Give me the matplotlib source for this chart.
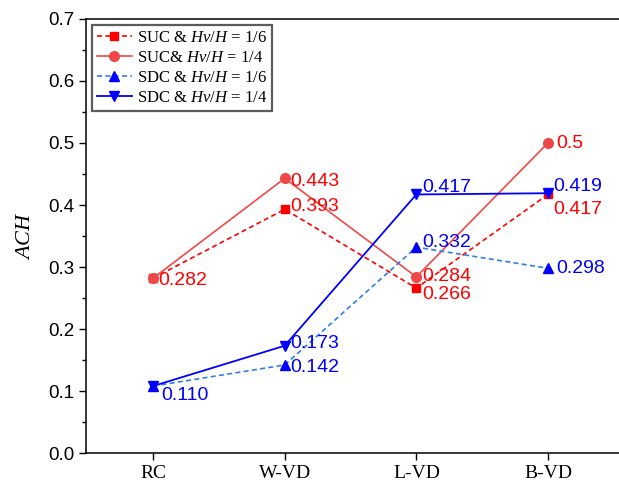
import matplotlib
matplotlib.use("Agg")
import matplotlib.pyplot as plt
from matplotlib.ticker import MultipleLocator

categories = ["RC", "W-VD", "L-VD", "B-VD"]
suc_16 = [0.282, 0.393, 0.266, 0.417]
suc_14 = [0.282, 0.443, 0.284, 0.500]
sdc_16 = [0.108, 0.142, 0.332, 0.298]
sdc_14 = [0.108, 0.173, 0.417, 0.419]
label_suc_16 = ["", "0.393", "0.266", "0.417"]
label_suc_14 = ["0.282", "0.443", "0.284", "0.5"]
label_sdc_16 = ["0.110", "0.142", "0.332", "0.298"]
label_sdc_14 = ["", "0.173", "0.417", "0.419"]

plt.rcParams["mathtext.fontset"] = "custom"
plt.rcParams["mathtext.it"] = "Liberation Serif:italic"
plt.rcParams["mathtext.rm"] = "Liberation Serif"

fig = plt.figure(figsize=(6.19, 4.82), dpi=100)
ax = fig.add_axes([86/619, 29/482, 1 - 86/619, (453-19)/482])
x = list(range(1, len(categories) + 1))

red = "#FF0000"
red2 = "#F04848"
blue = "#0000FF"
blue2 = "#2C7FE8"

ax.plot(x, suc_16, ls=(0, (3, 2)), color=red, marker="s", ms=6, lw=1.2,
        label="SUC & $Hv/H$ = 1/6")
ax.plot(x, suc_14, ls="-", color=red2, marker="o", ms=7, lw=1.2,
        label="SUC& $Hv/H$ = 1/4")
ax.plot(x, sdc_16, ls=(0, (3, 2)), color=blue2, marker="^", ms=7, lw=1.2,
        mfc=blue, mec=blue, label="SDC & $Hv/H$ = 1/6")
ax.plot(x, sdc_14, ls="-", color=blue, marker="v", ms=7, lw=1.3,
        label="SDC & $Hv/H$ = 1/4")

# text offsets in points (dx, dy), positive dy upward
off_suc_16 = [(0, 0), (4, 2), (4, -4.5), (4, -11)]
off_suc_14 = [(4, -1.5), (4, -2), (4, 0), (6, 0)]
off_sdc_16 = [(6, -7), (4, -2), (4, 3), (6, 0)]
off_sdc_14 = [(0, 0), (4, 1.5), (4, 5), (4, 4.5)]

def annotate(vals, labels, offs, color):
    for xi, v, t, o in zip(x, vals, labels, offs):
        if t:
            ax.annotate(t, (xi, v), xytext=o, textcoords="offset points",
                        ha="left", va="center", color=color, fontsize=14,
                        family="Liberation Sans")

annotate(suc_16, label_suc_16, off_suc_16, red)
annotate(suc_14, label_suc_14, off_suc_14, red)
annotate(sdc_16, label_sdc_16, off_sdc_16, blue)
annotate(sdc_14, label_sdc_14, off_sdc_14, blue)

ax.set_xlim(0.49, 4.54)
ax.set_ylim(0, 0.7)
ax.set_xticks(x)
ax.set_xticklabels(categories, family="Liberation Serif", fontsize=14)
ax.yaxis.set_major_locator(MultipleLocator(0.1))
ax.yaxis.set_minor_locator(MultipleLocator(0.05))
for lab in ax.get_yticklabels():
    lab.set_family("Liberation Sans")
    lab.set_fontsize(13.5)
ax.tick_params(axis="both", which="major", direction="out", length=5, width=1)
ax.tick_params(axis="y", which="minor", direction="out", length=3, width=1)
ax.spines["right"].set_visible(False)
for s in ["left", "bottom", "top"]:
    ax.spines[s].set_linewidth(1.1)
ax.set_ylabel("$ACH$", fontsize=16, labelpad=10)

leg = ax.legend(loc="upper left", bbox_to_anchor=(0.0, 1.0),
                prop={"family": "Liberation Serif", "size": 12},
                frameon=True, fancybox=False, edgecolor="#333333",
                handlelength=2.1, borderpad=0.3, labelspacing=0.25,
                handletextpad=0.3, borderaxespad=0.35)
leg.get_frame().set_linewidth(1.6)

fig.savefig("out.png", dpi=100)
